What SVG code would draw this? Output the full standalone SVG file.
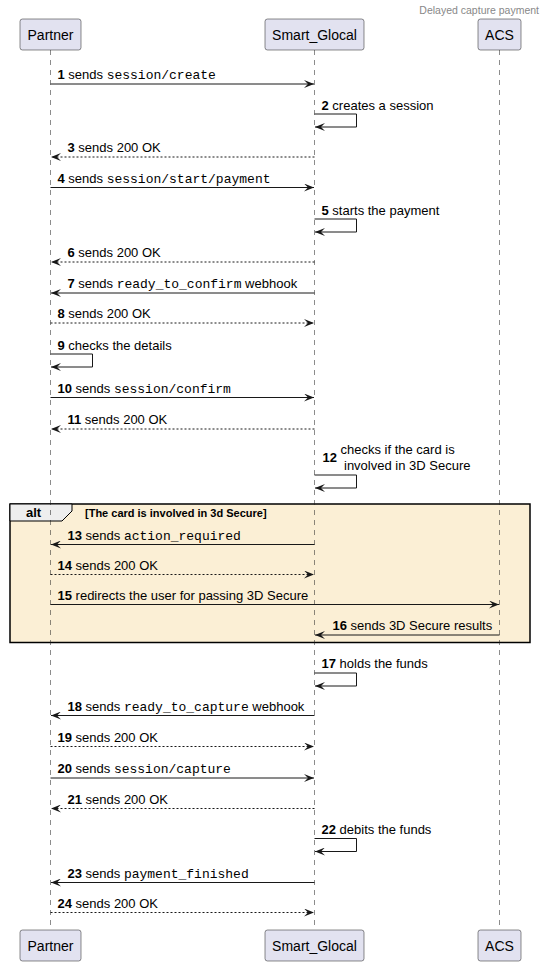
<svg xmlns="http://www.w3.org/2000/svg" width="546" height="966" viewBox="0 0 546 966">
<style>
text{font-family:"Liberation Sans",Arial,sans-serif;fill:#000}
.msg{font-size:13px}
.n{font-weight:bold}
.m{font-family:"Liberation Mono","Courier New",monospace}
.pt{font-size:14px;text-anchor:middle}
.box{fill:#E2E2F0;stroke:#181818;stroke-width:0.5}
.life{stroke:#181818;stroke-width:0.5;stroke-dasharray:5,5}
.ar{stroke:#181818;stroke-width:1;fill:none;marker-end:url(#ah)}
.d{stroke-dasharray:2,2}
.title{font-size:10.5px;fill:#888888;text-anchor:end}
</style>
<defs>
<marker id="ah" viewBox="0 0 10 8" refX="10" refY="4" markerWidth="10" markerHeight="8" orient="auto" markerUnits="userSpaceOnUse">
<path d="M0,0 L10,4 L0,8 L4,4 Z" fill="#181818" stroke="none"/>
</marker>
</defs>
<rect width="546" height="966" fill="#FFFFFF"/>
<text class="title" x="539" y="14">Delayed capture payment</text>

<g id="alt">
<rect x="10" y="504" width="520" height="138.5" fill="#FBEFD5" stroke="#000000" stroke-width="1.5"/>
<path d="M10,504 H72 V511 L62,521 H10 Z" fill="#EEEEEE" stroke="#000000" stroke-width="1"/>
<text x="26" y="517" font-size="13" font-weight="bold">alt</text>
<text x="85" y="516.5" font-size="11" font-weight="bold">[The card is involved in 3d Secure]</text>
</g>

<g id="lifelines">
<line class="life" x1="50.5" y1="50" x2="50.5" y2="930"/>
<line class="life" x1="314.5" y1="50" x2="314.5" y2="930"/>
<line class="life" x1="499.5" y1="50" x2="499.5" y2="930"/>
</g>

<g id="Partner">
<rect class="box" x="20" y="19" width="61" height="31" rx="2.5"/>
<text class="pt" x="50.5" y="39.5">Partner</text>
<rect class="box" x="20" y="930" width="61" height="31" rx="2.5"/>
<text class="pt" x="50.5" y="950.5">Partner</text>
</g>
<g id="Smart_Glocal">
<rect class="box" x="265" y="19" width="99" height="31" rx="2.5"/>
<text class="pt" x="314.5" y="39.5">Smart_Glocal</text>
<rect class="box" x="265" y="930" width="99" height="31" rx="2.5"/>
<text class="pt" x="314.5" y="950.5">Smart_Glocal</text>
</g>
<g id="ACS">
<rect class="box" x="478" y="19" width="43" height="31" rx="2.5"/>
<text class="pt" x="499.5" y="39.5">ACS</text>
<rect class="box" x="478" y="930" width="43" height="31" rx="2.5"/>
<text class="pt" x="499.5" y="950.5">ACS</text>
</g>

<g id="connectors">
<line class="ar" x1="50.5" y1="84" x2="314" y2="84"/>
<path class="ar" d="M314.5,114 H356.5 V127 H315"/>
<line class="ar d" x1="314.5" y1="157" x2="51" y2="157"/>
<line class="ar" x1="50.5" y1="187.5" x2="314" y2="187.5"/>
<path class="ar" d="M314.5,219 H356.5 V232 H315"/>
<line class="ar d" x1="314.5" y1="262" x2="51" y2="262"/>
<line class="ar" x1="314.5" y1="293" x2="51" y2="293"/>
<line class="ar d" x1="50.5" y1="323" x2="314" y2="323"/>
<path class="ar" d="M50.5,354 H92.5 V367 H51"/>
<line class="ar" x1="50.5" y1="397.5" x2="314" y2="397.5"/>
<line class="ar d" x1="314.5" y1="429" x2="51" y2="429"/>
<path class="ar" d="M314.5,475 H356.5 V488 H315"/>
<line class="ar" x1="314.5" y1="544.5" x2="51" y2="544.5"/>
<line class="ar d" x1="50.5" y1="574.5" x2="314" y2="574.5"/>
<line class="ar" x1="50.5" y1="604.5" x2="499" y2="604.5"/>
<line class="ar" x1="499.5" y1="635" x2="315" y2="635"/>
<path class="ar" d="M314.5,673 H356.5 V686 H315"/>
<line class="ar" x1="314.5" y1="715.5" x2="51" y2="715.5"/>
<line class="ar d" x1="50.5" y1="746.5" x2="314" y2="746.5"/>
<line class="ar" x1="50.5" y1="778" x2="314" y2="778"/>
<line class="ar d" x1="314.5" y1="808.5" x2="51" y2="808.5"/>
<path class="ar" d="M314.5,838.5 H356.5 V851.5 H315"/>
<line class="ar" x1="314.5" y1="882.5" x2="51" y2="882.5"/>
<line class="ar d" x1="50.5" y1="912.5" x2="314" y2="912.5"/>
</g>

<g id="labels">
<text class="msg" x="57.5" y="79"><tspan class="n">1</tspan> sends <tspan class="m">session/create</tspan></text>
<text class="msg" x="321.5" y="109.5"><tspan class="n">2</tspan> creates a session</text>
<text class="msg" x="67.5" y="152"><tspan class="n">3</tspan> sends 200 OK</text>
<text class="msg" x="57.5" y="182.5"><tspan class="n">4</tspan> sends <tspan class="m">session/start/payment</tspan></text>
<text class="msg" x="321.5" y="214.5"><tspan class="n">5</tspan> starts the payment</text>
<text class="msg" x="67.5" y="257"><tspan class="n">6</tspan> sends 200 OK</text>
<text class="msg" x="67.5" y="288"><tspan class="n">7</tspan> sends <tspan class="m">ready_to_confirm</tspan> webhook</text>
<text class="msg" x="57.5" y="318"><tspan class="n">8</tspan> sends 200 OK</text>
<text class="msg" x="57.5" y="349.5"><tspan class="n">9</tspan> checks the details</text>
<text class="msg" x="57.5" y="392.5"><tspan class="n">10</tspan> sends <tspan class="m">session/confirm</tspan></text>
<text class="msg" x="67.5" y="424"><tspan class="n">11</tspan> sends 200 OK</text>
<text class="msg n" x="322.5" y="461.5">12</text>
<text class="msg" x="340.5" y="454">checks if the card is</text>
<text class="msg" x="344" y="469.5">involved in 3D Secure</text>
<text class="msg" x="67.5" y="539.5"><tspan class="n">13</tspan> sends <tspan class="m">action_required</tspan></text>
<text class="msg" x="57.5" y="569.5"><tspan class="n">14</tspan> sends 200 OK</text>
<text class="msg" x="57.5" y="599.5"><tspan class="n">15</tspan> redirects the user for passing 3D Secure</text>
<text class="msg" x="332.5" y="630"><tspan class="n">16</tspan> sends 3D Secure results</text>
<text class="msg" x="321.5" y="667.5"><tspan class="n">17</tspan> holds the funds</text>
<text class="msg" x="67.5" y="710.5"><tspan class="n">18</tspan> sends <tspan class="m">ready_to_capture</tspan> webhook</text>
<text class="msg" x="57.5" y="741.5"><tspan class="n">19</tspan> sends 200 OK</text>
<text class="msg" x="57.5" y="773"><tspan class="n">20</tspan> sends <tspan class="m">session/capture</tspan></text>
<text class="msg" x="67.5" y="803.5"><tspan class="n">21</tspan> sends 200 OK</text>
<text class="msg" x="321.5" y="833.5"><tspan class="n">22</tspan> debits the funds</text>
<text class="msg" x="67.5" y="877.5"><tspan class="n">23</tspan> sends <tspan class="m">payment_finished</tspan></text>
<text class="msg" x="57.5" y="907.5"><tspan class="n">24</tspan> sends 200 OK</text>
</g>
</svg>
